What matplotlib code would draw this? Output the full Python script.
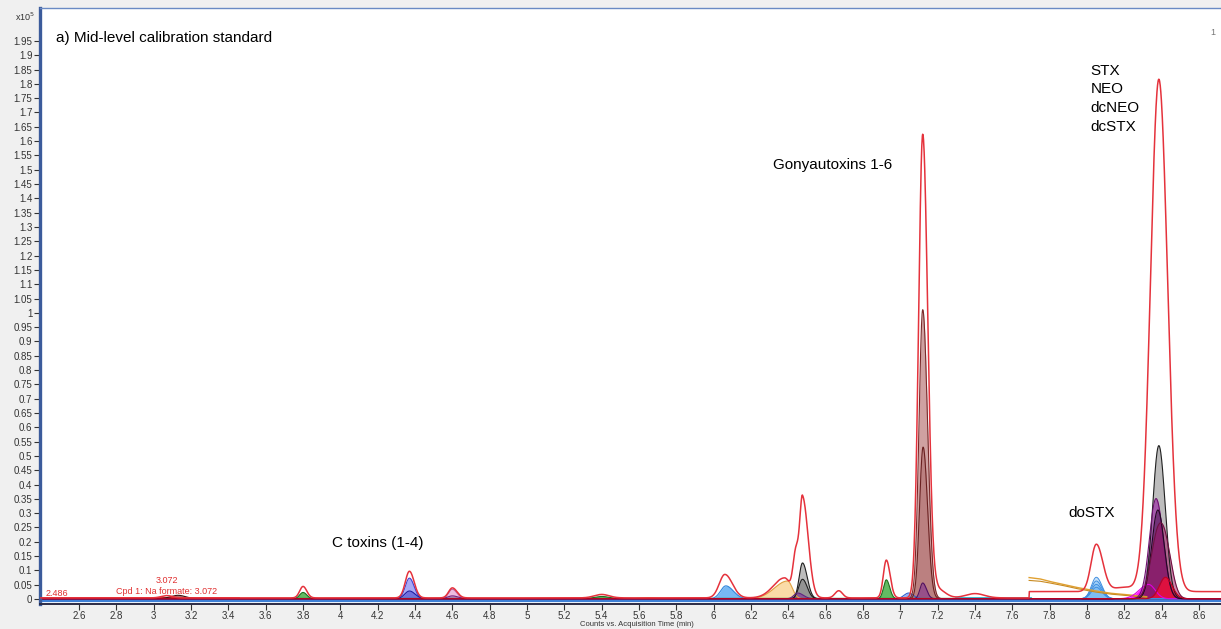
import numpy as np
import matplotlib
matplotlib.use('Agg')
import matplotlib.pyplot as plt

plt.rcParams['font.family'] = ['Liberation Sans', 'DejaVu Sans']

# peak tables: (retention time min, height x10^5 counts, left width, right width)
tic_peaks = [
    (3.07, 0.008, 0.030, 0.030),
    (3.80, 0.040, 0.018, 0.020),
    (4.37, 0.093, 0.022, 0.025),
    (4.60, 0.035, 0.020, 0.025),
    (5.40, 0.012, 0.040, 0.040),
    (6.06, 0.082, 0.030, 0.040),
    (6.38, 0.070, 0.060, 0.030),
    (6.44, 0.150, 0.015, 0.015),
    (6.476, 0.350, 0.015, 0.030),
    (6.67, 0.025, 0.020, 0.020),
    (6.925, 0.132, 0.016, 0.020),
    (7.12, 1.620, 0.022, 0.027),
    (7.20, 0.030, 0.020, 0.040),
    (7.40, 0.015, 0.050, 0.050),
    (8.05, 0.165, 0.028, 0.035),
    (8.20, 0.015, 0.060, 0.060),
    (8.385, 1.790, 0.045, 0.047),
]
tic_base = 0.004
tic_base_late = 0.026
late_start = 7.69

gtx_main = [(7.12, 1.01, 0.020, 0.026)]
gtx_minor = [(7.122, 0.53, 0.019, 0.024)]
gtx_purple = [(7.12, 0.055, 0.015, 0.020)]
gtx_blue = [(7.045, 0.020, 0.025, 0.025)]

gray_hi = [(6.476, 0.125, 0.018, 0.025), (8.385, 0.535, 0.033, 0.034)]
gray_lo = [(6.476, 0.068, 0.020, 0.025)]

c_toxin_blue_hi = [(4.37, 0.072, 0.022, 0.025)]
c_toxin_blue_lo = [(4.37, 0.027, 0.025, 0.030)]
c_toxin_pink = [(4.60, 0.033, 0.020, 0.025)]
c_toxin_violet = [(4.60, 0.010, 0.025, 0.030)]

green_peaks = [(3.80, 0.022, 0.018, 0.020), (5.40, 0.008, 0.040, 0.040), (6.925, 0.066, 0.015, 0.018)]
blue_peaks = [(6.065, 0.045, 0.028, 0.040)]
orange_peaks = [(5.65, 0.004, 0.040, 0.040), (6.396, 0.062, 0.070, 0.025)]
purple_peaks = [(6.45, 0.020, 0.020, 0.030)]
formate_peaks = [(3.13, 0.012, 0.040, 0.040)]

dostx_heights = [0.075, 0.062, 0.050, 0.040]
dostx_rt = 8.05

stx_magenta = [(8.33, 0.050, 0.050, 0.035)]
stx_purple = [(8.37, 0.350, 0.035, 0.038)]
stx_dark = [(8.38, 0.310, 0.033, 0.034)]
stx_wine = [(8.37, 0.180, 0.035, 0.032), (8.42, 0.180, 0.032, 0.035)]
stx_red = [(8.42, 0.075, 0.032, 0.036)]

orange_t = [7.69, 7.75, 7.81, 7.88, 7.95, 8.05, 8.13, 8.25, 8.32]
orange_a = [0.075, 0.070, 0.060, 0.050, 0.040, 0.028, 0.020, 0.013, 0.008]
orange_b = [0.065, 0.062, 0.055, 0.046, 0.036, 0.024, 0.017, 0.010, 0.006]

x_ticks = np.round(np.arange(2.6, 8.61, 0.2), 1)
y_ticks = np.round(np.arange(0, 1.96, 0.05), 2)

t = np.linspace(2.39, 8.72, 4000)


def trace(peaks, base=0.0):
    y = np.full_like(t, base)
    for rt, h, wl, wr in peaks:
        w = np.where(t < rt, wl, wr)
        y = y + h * np.exp(-0.5 * ((t - rt) / w) ** 2)
    return y


def filled(ax, peaks, face, edge, alpha, lw=0.8):
    y = trace(peaks, 0.001)
    ax.fill_between(t, 0.001, y, where=y > 0.0015, color=face, alpha=alpha, lw=0)
    ax.plot(t, y, color=edge, lw=lw)


fig = plt.figure(figsize=(12.21, 6.29), dpi=100, facecolor='#f0f0f0')
ax = fig.add_axes([0.0328, 0.039, 0.9672, 0.9483])
ax.set_facecolor('white')

# baselines
ax.axhline(-0.007, color='#3d7fd6', lw=1.6, zorder=1)
ax.plot([2.39, 3.45], [0.003, 0.003], color='#d62020', lw=2.0)
ax.plot([3.45, 7.7], [0.002, 0.002], color='#2e8b3e', lw=1.0)
ax.plot([7.3, 7.7], [0.004, 0.004], color='#20b0d0', lw=1.2)

filled(ax, formate_peaks, '#6a2020', '#401010', 0.6)
filled(ax, green_peaks, '#3caa3c', '#1f6e1f', 0.8)
filled(ax, c_toxin_blue_hi, '#7b7bf0', '#4040d0', 0.65)
filled(ax, c_toxin_blue_lo, '#4a4ad0', '#1e1ea0', 0.6)
filled(ax, c_toxin_pink, '#e8a0d4', '#c060a0', 0.7)
filled(ax, c_toxin_violet, '#9040a0', '#702080', 0.5)
filled(ax, blue_peaks, '#4aa0f0', '#2f86dc', 0.75)
filled(ax, orange_peaks, '#f7c46c', '#e0a040', 0.6)
filled(ax, gray_hi, '#9a9a9a', '#202020', 0.65)
filled(ax, gray_lo, '#6a6a6a', '#202020', 0.5)
filled(ax, purple_peaks, '#8030a0', '#602080', 0.6)
filled(ax, gtx_blue, '#4a80f0', '#3060d0', 0.6)
filled(ax, gtx_main, '#c48a8a', '#7a2a2a', 0.8)
filled(ax, gtx_minor, '#a86060', '#6a2020', 0.5)
filled(ax, gtx_purple, '#803090', '#501060', 0.6)

for h in dostx_heights:
    filled(ax, [(dostx_rt, h, 0.026, 0.030)], '#6ab4f4', '#3f8ee0', 0.4, lw=0.7)

ax.plot(orange_t, orange_a, color='#e0a030', lw=1.0)
ax.plot(orange_t, orange_b, color='#c88a20', lw=0.8)

filled(ax, stx_magenta, '#ff00ff', '#e000e0', 0.9)
filled(ax, stx_purple, '#a040a8', '#701070', 0.8)
filled(ax, stx_dark, '#4a1050', '#200820', 0.55)
filled(ax, stx_wine, '#a01060', '#701040', 0.5)
filled(ax, stx_red, '#e8103a', '#c00020', 0.9)

tic = trace(tic_peaks, tic_base) + np.where(t >= late_start, tic_base_late - tic_base, 0.0)
ax.plot(t, tic, color='#e5323c', lw=1.1, zorder=5)

ax.set_xlim(2.391, 8.718)
ax.set_ylim(-0.019, 2.065)
ax.set_xticks(x_ticks)
ax.set_xticklabels(['%g' % v for v in x_ticks])
ax.set_yticks(y_ticks)
ax.set_yticklabels(['%g' % v for v in y_ticks])
ax.tick_params(axis='both', labelsize=7, colors='#333333', length=4, width=0.8, pad=1.5)
ax.tick_params(axis='x', pad=1)

ax.spines['right'].set_visible(False)
ax.spines['left'].set_color('#3b5b9b')
ax.spines['left'].set_linewidth(2.4)
ax.spines['top'].set_color('#6a8ac4')
ax.spines['top'].set_linewidth(1.0)
ax.spines['bottom'].set_color('#2b2b45')
ax.spines['bottom'].set_linewidth(1.4)

ax.set_xlabel('Counts vs. Acquisition Time (min)', fontsize=5.5, color='#333333')
ax.xaxis.set_label_coords(0.505, -0.027)

fig.text(0.012, 0.973, r'x10$^{5}$', fontsize=6.5, color='#333333', va='center')
ax.text(0.995, 0.955, '1', transform=ax.transAxes, fontsize=6.5, color='#777777', ha='right')

ax.text(2.477, 1.96, 'a) Mid-level calibration standard', fontsize=11, va='center')
ax.text(6.32, 1.517, 'Gonyautoxins 1-6', fontsize=11, va='center')
ax.text(8.02, 1.87, 'STX\nNEO\ndcNEO\ndcSTX', fontsize=11, va='top', linespacing=1.42)
ax.text(7.9, 0.30, 'doSTX', fontsize=11, va='center')
ax.text(3.955, 0.196, 'C toxins (1-4)', fontsize=11, va='center')

ax.text(2.42, 0.021, '2.486', fontsize=6.5, color='#e03030', va='center')
ax.text(3.07, 0.063, '3.072', fontsize=6.5, color='#e03030', ha='center', va='center')
ax.text(3.07, 0.028, 'Cpd 1: Na formate: 3.072', fontsize=6.5, color='#e03030', ha='center', va='center')

fig.savefig('out.png', dpi=100, facecolor=fig.get_facecolor())
